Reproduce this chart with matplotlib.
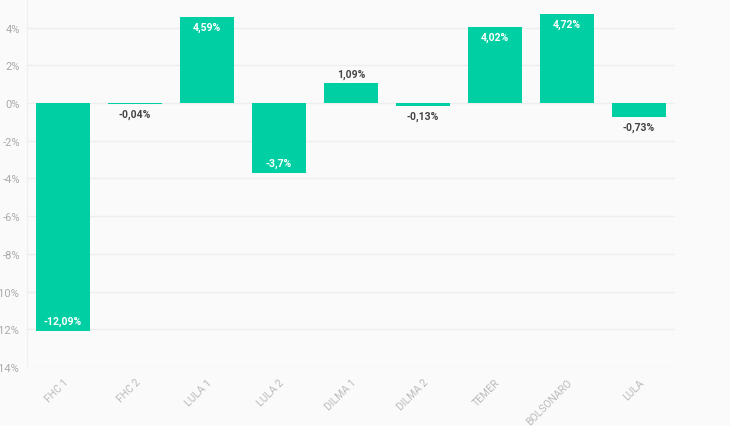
import numpy as np
import matplotlib.pyplot as plt

governos = ["FHC 1", "FHC 2", "LULA 1", "LULA 2", "DILMA 1", "DILMA 2", "TEMER", "BOLSONARO", "LULA"]
valores = [-12.09, -0.04, 4.59, -3.70, 1.09, -0.13, 4.02, 4.72, -0.73]
rotulos = ["-12,09%", "-0,04%", "4,59%", "-3,7%", "1,09%", "-0,13%", "4,02%", "4,72%", "-0,73%"]
yticks = [4, 2, 0, -2, -4, -6, -8, -10, -12, -14]

plt.rcParams['font.family'] = ['Roboto', 'DejaVu Sans']
cor = "#00cfa4"
fundo = "#fafafa"

fig = plt.figure(figsize=(7.3, 4.27), dpi=100)
fig.patch.set_facecolor(fundo)
ax = fig.add_axes([27/730, (427-368)/427, (675-27)/730, 368/427])
ax.set_facecolor(fundo)

x = np.arange(len(governos))
ax.bar(x, valores, width=0.75, color=cor, zorder=3, linewidth=0)

for xi, v, r in zip(x, valores, rotulos):
    if abs(v) > 2:
        if v > 0:
            ax.text(xi, v - 0.25, r, ha="center", va="top", color="white",
                    fontsize=7.5, fontweight="bold", zorder=4)
        else:
            ax.text(xi, v + 0.25, r, ha="center", va="bottom", color="white",
                    fontsize=7.5, fontweight="bold", zorder=4)
    else:
        if v > 0:
            ax.text(xi, v + 0.2, r, ha="center", va="bottom", color="#444444",
                    fontsize=7.5, fontweight="bold", zorder=4)
        else:
            ax.text(xi, v - 0.25, r, ha="center", va="top", color="#444444",
                    fontsize=7.5, fontweight="bold", zorder=4)

ax.set_xlim(-0.5, len(governos) - 0.5)
ax.set_ylim(-14, 5.52)
ax.set_yticks(yticks)
ax.set_yticklabels([f"{t}%" for t in yticks], color="#aaaaaa", fontsize=8)
ax.set_xticks(x)
ax.set_xticklabels(governos, rotation=45, ha="right", rotation_mode="anchor",
                   color="#bbbbbb", fontsize=7.5)
ax.tick_params(length=0, pad=7)
ax.tick_params(axis="y", pad=5)
ax.grid(axis="y", color="#eeeeee", linewidth=1, zorder=0)
for s in ax.spines.values():
    s.set_visible(False)
ax.axvline(-0.5, color="#f0f0f0", linewidth=1, zorder=0)

fig.savefig("out.png", dpi=100, facecolor=fundo)
